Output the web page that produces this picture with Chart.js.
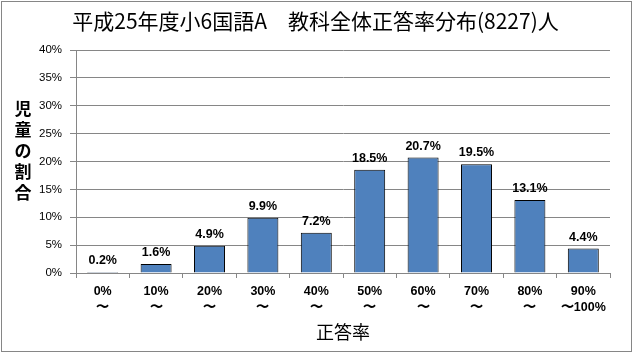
<!DOCTYPE html>
<html><head><meta charset="utf-8">
<script src="https://cdn.jsdelivr.net/npm/chart.js@4/dist/chart.umd.min.js"></script>
<style>html,body{margin:0;padding:0;background:#fff}#wrap{width:633px;height:353px}</style>
</head><body><div id="wrap"><canvas id="c" width="633" height="353"></canvas></div>
<script>
const categories = [['0%','〜'],['10%','〜'],['20%','〜'],['30%','〜'],['40%','〜'],['50%','〜'],['60%','〜'],['70%','〜'],['80%','〜'],['90%','〜100%']];
const values = [0.2, 1.6, 4.9, 9.9, 7.2, 18.5, 20.7, 19.5, 13.1, 4.4];
const yTicks = [0,5,10,15,20,25,30,35,40];
const titleText = '平成25年度小6国語A　教科全体正答率分布(8227)人';
const yTitle = ['児','童','の','割','合'];
const xTitle = '正答率';

const JP = '"Noto Sans CJK JP", "DejaVu Sans", sans-serif';
const NUM = '"Liberation Sans", "DejaVu Sans", sans-serif';

const decor = {
  id:'decor',
  beforeDraw(chart){
    const ctx = chart.ctx;
    ctx.save();
    ctx.fillStyle='#fff'; ctx.fillRect(0,0,chart.width,chart.height);
    ctx.strokeStyle='#868686'; ctx.lineWidth=1;
    ctx.strokeRect(1.5,1.5,chart.width-3,chart.height-3);
    ctx.restore();
  },
  afterDraw(chart){
    const ctx = chart.ctx;
    ctx.save();
    ctx.fillStyle='#000';
    ctx.textAlign='center'; ctx.textBaseline='middle';
    ctx.font = '21px ' + JP;
    ctx.fillText(titleText, chart.width/2 - 1, 21);
    ctx.font = 'bold 17px ' + JP;
    yTitle.forEach((ch,i)=>ctx.fillText(ch, 23, 109 + i*21));
    // data labels
    ctx.font = 'bold 12.5px ' + NUM;
    ctx.textBaseline='bottom';
    const meta = chart.getDatasetMeta(0);
    meta.data.forEach((bar,i)=>{
      ctx.fillText(values[i].toFixed(1)+'%', bar.x, bar.y - 5);
    });
    ctx.restore();
  }
};

new Chart(document.getElementById('c'), {
  type:'bar',
  data:{labels:categories, datasets:[{data:values, backgroundColor:'#4F81BD', borderColor:'#000', borderWidth:1, barPercentage:0.58, categoryPercentage:1}]},
  options:{
    responsive:false, animation:false, devicePixelRatio:1,
    layout:{padding:{left:0,right:23,top:50,bottom:6}},
    plugins:{legend:{display:false}, tooltip:{enabled:false}, title:{display:false}},
    scales:{
      x:{
        grid:{display:true, drawOnChartArea:false, offset:true, tickLength:5, color:'#868686'},
        border:{color:'#868686'},
        ticks:{color:'#000', font:{family:NUM, size:12.5, weight:'bold', lineHeight:1.25}, maxRotation:0, autoSkip:false, padding:6},
        title:{display:true, text:xTitle, color:'#000', font:{family:JP, size:18}, padding:{top:4,bottom:4}},
        afterFit(s){ s.height = 74; }
      },
      y:{
        min:0, max:40,
        afterBuildTicks(s){ s.ticks = yTicks.map(v=>({value:v})); },
        grid:{color:'#868686', tickLength:6},
        border:{color:'#868686'},
        ticks:{color:'#000', font:{family:NUM, size:11.5}, padding:8, callback:v=>v+'%'},
        afterFit(s){ s.width = 76; }
      }
    }
  },
  plugins:[decor]
});
</script></body></html>
